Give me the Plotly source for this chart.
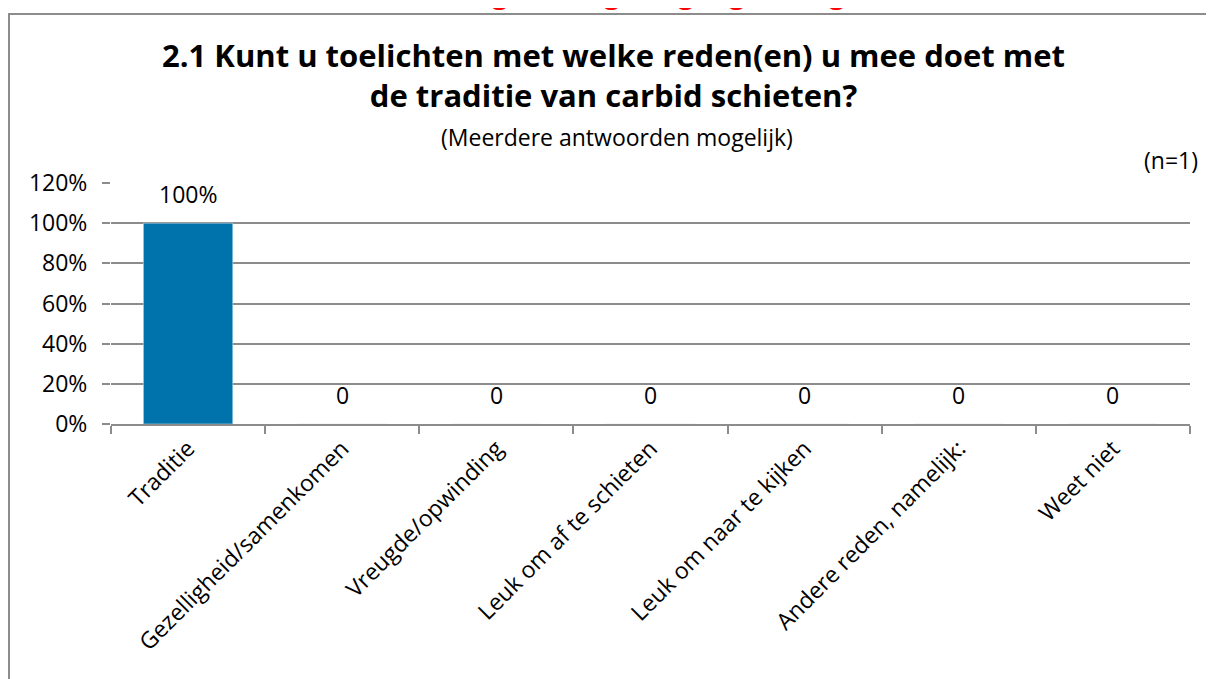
import plotly.graph_objects as go

categories = ["Traditie", "Gezelligheid/samenkomen", "Vreugde/opwinding",
              "Leuk om af te schieten", "Leuk om naar te kijken",
              "Andere reden, namelijk:", "Weet niet"]
values = [1.0, 0, 0, 0, 0, 0, 0]
y_ticks = [0, 0.2, 0.4, 0.6, 0.8, 1.0, 1.2]
y_tick_labels = ["0%", "20%", "40%", "60%", "80%", "100%", "120%"]
title_lines = ["2.1 Kunt u toelichten met welke reden(en) u mee doet met",
               "de traditie van carbid schieten?"]
subtitle = "(Meerdere antwoorden mogelijk)"
n_label = "(n=1)"

FONT = "Open Sans"
GRID = "#8c8c8c"

OFF = 8  # page body margin
W, H = 1214, 679
L, R, T, B = 111 - OFF, 32, 183 - OFF, 263
pw, ph = W - L - R, H - T - B

def px(x):
    return (x - OFF - L) / pw

def py(y):
    return (H - B - (y - OFF)) / ph

fig = go.Figure()
fig.add_trace(go.Bar(x=categories, y=values, marker_color="#0073ac",
                     width=0.58, hoverinfo="skip"))

annotations = []
for c, v in zip(categories, values):
    annotations.append(dict(x=c, y=v, xref="x", yref="y",
                            text=f"{v:.0%}" if v else "0",
                            showarrow=False, yanchor="bottom", yshift=11,
                            font=dict(family=FONT, size=23, color="#000")))

annotations.append(dict(x=px(613), y=py(75), xref="paper", yref="paper",
                        text="<b>" + "<br>".join(title_lines) + "</b>",
                        showarrow=False, xanchor="center", yanchor="middle",
                        font=dict(family=FONT, size=31, color="#000")))
annotations.append(dict(x=px(617), y=py(137), xref="paper", yref="paper",
                        text=subtitle, showarrow=False, xanchor="center",
                        yanchor="middle",
                        font=dict(family=FONT, size=23, color="#000")))
annotations.append(dict(x=px(1200), y=py(160), xref="paper", yref="paper",
                        text=n_label, showarrow=False, xanchor="right",
                        yanchor="middle",
                        font=dict(family=FONT, size=23, color="#000")))
for xg in [500, 612, 686, 737, 837]:
    annotations.append(dict(x=px(xg), y=py(13), xref="paper", yref="paper",
                            text="<b>g</b>", showarrow=False, xanchor="center",
                            yanchor="bottom",
                            font=dict(family=FONT, size=28, color="#ff0000")))

shapes = [dict(type="rect", xref="paper", yref="paper",
               x0=px(9), x1=px(1260), y0=py(720), y1=py(14),
               line=dict(color=GRID, width=2), fillcolor="rgba(0,0,0,0)",
               layer="below")]

fig.update_layout(
    width=W, height=H,
    margin=dict(l=L, r=R, t=T, b=B, pad=0),
    paper_bgcolor="white", plot_bgcolor="white",
    showlegend=False,
    annotations=annotations, shapes=shapes,
    font=dict(family=FONT, size=23, color="#000"),
)
fig.update_xaxes(showline=True, linecolor=GRID, linewidth=2,
                 ticks="outside", tickson="boundaries", ticklen=8,
                 tickcolor=GRID, tickwidth=2, tickangle=-45,
                 tickfont=dict(family=FONT, size=23, color="#000"),
                 showgrid=False)
fig.update_yaxes(range=[0, 1.2], tickvals=y_ticks, ticktext=y_tick_labels,
                 showgrid=True, gridcolor=GRID, gridwidth=1.5,
                 ticks="outside", ticklen=8, tickcolor=GRID, tickwidth=1.5,
                 showline=False, zeroline=False,
                 ticklabelstandoff=10,
                 tickfont=dict(family=FONT, size=23, color="#000"))

fig.write_html("out.html")
